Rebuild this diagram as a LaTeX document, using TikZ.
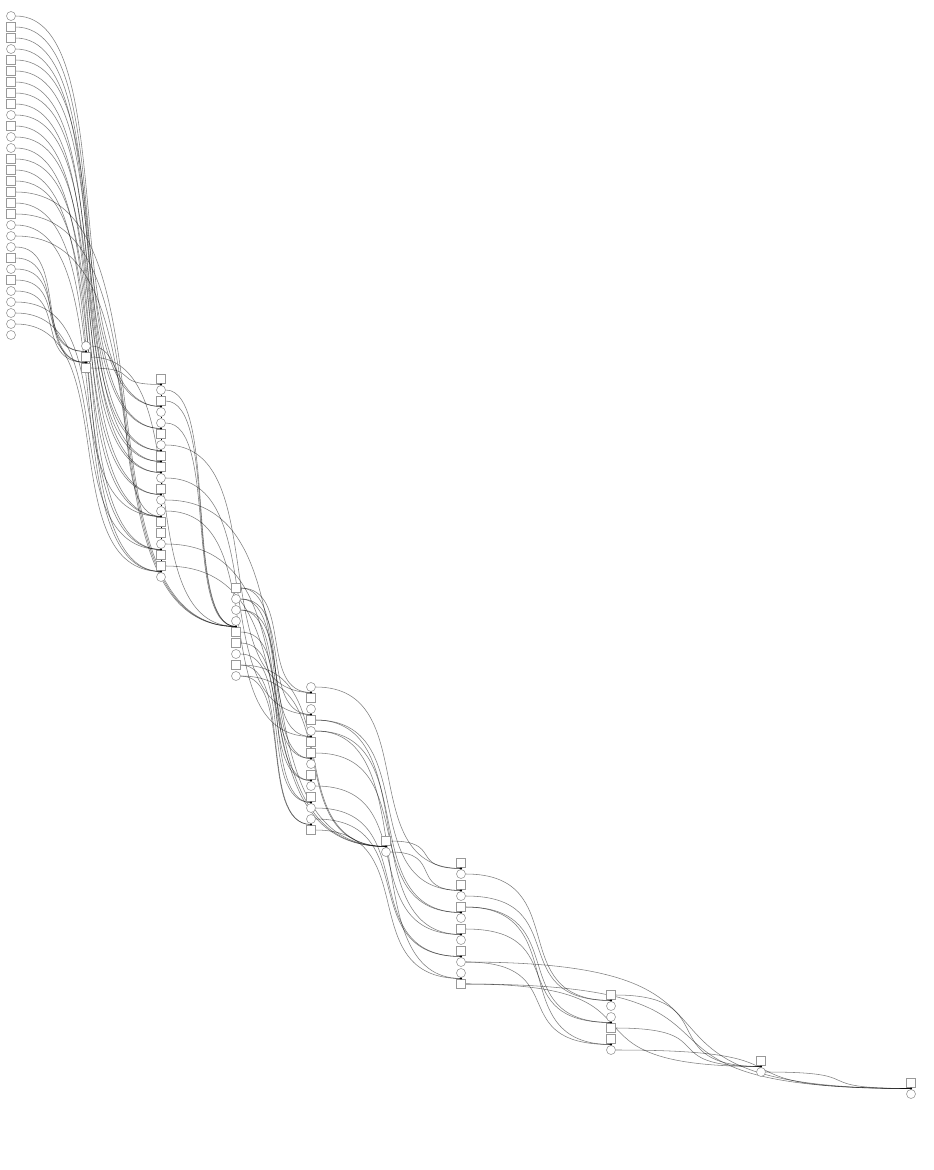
\documentclass[tikz,border=0pt]{standalone}
\usetikzlibrary{calc}
\pgfdeclarelayer{back}
\pgfdeclarelayer{bg}
\pgfsetlayers{back,bg,main}
\newcommand\myedge[2]{\draw[ed] let \p1=(#1.east), \p2=(j#2) in (\p1) .. controls ({\x1+0.75*(\x2-\x1)},\y1) and ({\x2-0.75*(\x2-\x1)},\y2) .. (\p2);}
\newcommand\junc[2]{\coordinate (j#1) at ($(#1)!0.5!(#2)$);\draw[lk] (#1.south) -- (#2.north);\fill (j#1) circle (1.1pt);}
\newcommand\lnk[2]{\draw[lk] (#1.south) -- (#2.north);}
\tikzset{
  sq/.style={draw=black!40, fill=white, rectangle, minimum size=8.5pt, inner sep=0pt, line width=0.6pt},
  ci/.style={draw=black!40, fill=white, circle, minimum size=9pt, inner sep=0pt, line width=0.6pt},
  ed/.style={black, opacity=0.5, line width=0.55pt},
  lk/.style={black, line width=0.8pt}
}
\begin{document}
\begin{tikzpicture}[x=1pt,y=-1pt]
\begin{pgfonlayer}{back}
\fill[white] (0,0) rectangle (934,1170);
\end{pgfonlayer}
\useasboundingbox (0,0) rectangle (934,1170);
\foreach \t [count=\i] in {ci,sq,sq,ci,sq,sq,sq,sq,sq,ci,sq,ci,ci,sq,sq,sq,sq,sq,sq,ci,ci,ci,sq,ci,sq,ci,ci,ci,ci,ci}
  \node[\t] (A\i) at (11,{16+11*(\i-1)}) {};
\foreach \t [count=\i] in {ci,sq,sq}
  \node[\t] (B\i) at (86,{16+11*(29+\i)}) {};
\foreach \t [count=\i] in {sq,ci,sq,ci,ci,sq,ci,sq,sq,ci,sq,ci,ci,sq,sq,ci,sq,sq,ci}
  \node[\t] (C\i) at (161,{16+11*(32+\i)}) {};
\foreach \t [count=\i] in {sq,ci,ci,ci,sq,sq,ci,sq,ci}
  \node[\t] (D\i) at (236,{16+11*(51+\i)}) {};
\foreach \t [count=\i] in {ci,sq,ci,sq,ci,sq,sq,ci,sq,ci,sq,ci,ci,sq}
  \node[\t] (E\i) at (311,{16+11*(60+\i)}) {};
\foreach \t [count=\i] in {sq,ci}
  \node[\t] (F\i) at (386,{16+11*(74+\i)}) {};
\foreach \t [count=\i] in {sq,ci,sq,ci,sq,ci,sq,ci,sq,ci,ci,sq}
  \node[\t] (G\i) at (461,{16+11*(76+\i)}) {};
\foreach \t [count=\i] in {sq,ci,ci,sq,sq,ci}
  \node[\t] (H\i) at (611,{16+11*(88+\i)}) {};
\foreach \t [count=\i] in {sq,ci}
  \node[\t] (I\i) at (761,{16+11*(94+\i)}) {};
\foreach \t [count=\i] in {sq,ci}
  \node[\t] (J\i) at (911,{16+11*(96+\i)}) {};
% junctions and links
\junc{B1}{B2}\junc{B2}{B3}
\junc{C1}{C2}\junc{C3}{C4}\junc{C5}{C6}\junc{C7}{C8}\junc{C8}{C9}\junc{C9}{C10}
\junc{C11}{C12}\junc{C13}{C14}\junc{C16}{C17}\junc{C18}{C19}
\lnk{C2}{C3}\lnk{C4}{C5}\lnk{C6}{C7}\lnk{C10}{C11}\lnk{C12}{C13}\lnk{C14}{C15}\lnk{C15}{C16}\lnk{C17}{C18}
\junc{D4}{D5}
\junc{E1}{E2}\junc{E3}{E4}\junc{E5}{E6}\junc{E7}{E8}\junc{E9}{E10}\junc{E11}{E12}\junc{E13}{E14}
\junc{F1}{F2}
\junc{G1}{G2}\junc{G3}{G4}\junc{G5}{G6}\junc{G7}{G8}\junc{G9}{G10}\junc{G11}{G12}
\junc{H1}{H2}\junc{H3}{H4}\junc{H5}{H6}
\junc{I1}{I2}
\junc{J1}{J2}
\begin{pgfonlayer}{bg}
% column A and B
\myedge{A1}{C3}\myedge{A5}{C3}
\myedge{A2}{C5}\myedge{A6}{C5}
\myedge{A3}{C7}\myedge{A8}{C7}
\myedge{A4}{C8}\myedge{A10}{C8}
\myedge{A7}{C9}\myedge{A12}{C9}
\myedge{A9}{C11}\myedge{A14}{C11}
\myedge{A11}{C13}\myedge{A16}{C13}\myedge{B1}{C13}\myedge{A27}{C13}
\myedge{A13}{C16}\myedge{A18}{C16}\myedge{A28}{C16}
\myedge{A15}{C18}\myedge{A20}{C18}\myedge{A29}{C18}
\myedge{A17}{D4}\myedge{A19}{D4}\myedge{A21}{D4}\myedge{B2}{D4}
\myedge{A24}{B1}\myedge{A25}{B1}
\myedge{A22}{B2}\myedge{A23}{B2}\myedge{A26}{B2}
\myedge{B3}{C1}
% column C and D
\myedge{C2}{D4}\myedge{C3}{D4}\myedge{C5}{D4}
\myedge{C7}{E1}\myedge{C10}{E3}\myedge{C13}{E5}
\myedge{C12}{F1}\myedge{C16}{F1}\myedge{C18}{F1}
\myedge{D1}{E1}\myedge{D2}{E3}\myedge{D3}{E5}\myedge{D5}{E7}\myedge{D6}{E9}
\myedge{D7}{E11}\myedge{D8}{E13}\myedge{D9}{E13}
\myedge{D1}{E7}\myedge{D2}{E9}\myedge{D3}{E11}
\myedge{D8}{F1}\myedge{D9}{F1}
% column E and F
\myedge{E1}{G1}\myedge{E4}{G3}\myedge{E5}{G5}\myedge{E7}{G5}\myedge{E10}{G7}
\myedge{E12}{G9}\myedge{E13}{G9}\myedge{E14}{G11}\myedge{F1}{G1}\myedge{F2}{G3}
\myedge{E4}{G7}\myedge{E5}{G11}
% column G, H, I
\myedge{G2}{H1}\myedge{G4}{H1}\myedge{G5}{H3}\myedge{G5}{H5}\myedge{G7}{H3}
\myedge{G10}{H5}\myedge{G10}{J1}\myedge{G12}{I1}\myedge{G12}{J1}
\myedge{H1}{I1}\myedge{H4}{I1}\myedge{H6}{J1}\myedge{I2}{J1}
\end{pgfonlayer}
\end{tikzpicture}
\end{document}
